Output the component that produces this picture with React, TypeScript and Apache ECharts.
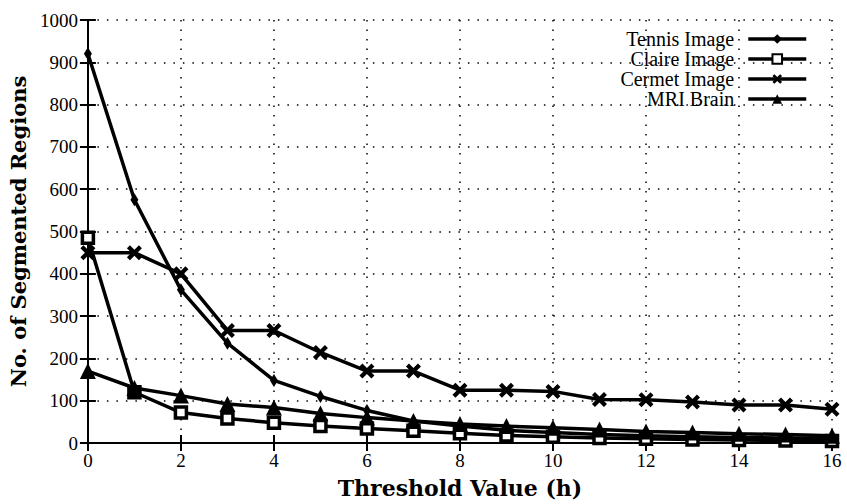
import React, { useEffect, useRef } from "react";
import * as echarts from "echarts";

const thresholds = [0, 1, 2, 3, 4, 5, 6, 7, 8, 9, 10, 11, 12, 13, 14, 15, 16];
const tennis = [920, 575, 362, 236, 148, 110, 77, 52, 40, 30, 25, 20, 17, 15, 13, 12, 11];
const claire = [485, 120, 72, 58, 48, 40, 34, 29, 23, 18, 15, 12, 10, 8, 7, 6, 5];
const cermet = [450, 450, 400, 266, 266, 214, 170, 170, 125, 125, 122, 103, 102, 97, 90, 90, 80];
const mri = [170, 130, 112, 92, 84, 70, 60, 52, 45, 40, 36, 32, 27, 25, 22, 20, 17];

const seriesNames = ["Tennis Image", "Claire Image", "Cermet Image", "MRI Brain"];

const xSymbol =
  "path://M0,2 L2,0 L5,3 L8,0 L10,2 L7,5 L10,8 L8,10 L5,7 L2,10 L0,8 L3,5 Z";

export default function App() {
  const ref = useRef<HTMLDivElement>(null);
  useEffect(() => {
    if (!ref.current) return;
    const chart = echarts.init(ref.current, undefined, { renderer: "svg" });
    const pair = (arr: number[]) => thresholds.map((t, i) => [t, arr[i]]);
    const lineStyle = { color: "#000", width: 3.5 };
    const serif = "Liberation Serif";
    const boldFont = "DejaVu Serif";
    chart.setOption({
      animation: false,
      backgroundColor: "#fff",
      grid: { left: 82, right: 15, top: 20, bottom: 57, containLabel: false },
      legend: {
        right: 34,
        top: 24,
        orient: "vertical",
        align: "right",
        itemWidth: 58,
        itemHeight: 12,
        itemGap: 0,
        lineStyle: { width: 3.5, color: "#000" },
        textStyle: { fontFamily: serif, fontSize: 20, color: "#000", lineHeight: 16, padding: [0, 9, 0, 0] },
        data: seriesNames,
      },
      xAxis: [
        {
          type: "value",
          min: 0,
          max: 16,
          interval: 2,
          name: "Threshold Value (h)",
          nameLocation: "middle",
          nameGap: 34,
          nameTextStyle: { fontFamily: boldFont, fontWeight: "bold", fontSize: 22, color: "#000" },
          axisLine: { show: true, lineStyle: { color: "#000", width: 2 } },
          axisTick: { show: true, inside: true, length: 8, lineStyle: { color: "#000", width: 2 } },
          axisLabel: { fontFamily: serif, fontSize: 19, color: "#000", margin: 8 },
          splitLine: { show: true, lineStyle: { color: "#000", width: 1.5, type: [1.5, 8] } },
        },
        {
          type: "value",
          position: "top",
          min: 0,
          max: 16,
          interval: 2,
          axisLine: { show: true, lineStyle: { color: "#000", width: 2 } },
          axisTick: { show: true, inside: true, length: 8, lineStyle: { color: "#000", width: 2 } },
          axisLabel: { show: false },
          splitLine: { show: false },
        },
      ],
      yAxis: [
        {
          type: "value",
          min: 0,
          max: 1000,
          interval: 100,
          name: "No. of Segmented Regions",
          nameLocation: "middle",
          nameGap: 58,
          nameTextStyle: { fontFamily: boldFont, fontWeight: "bold", fontSize: 21, color: "#000" },
          axisLine: { show: true, lineStyle: { color: "#000", width: 2 } },
          axisTick: { show: true, inside: true, length: 8, lineStyle: { color: "#000", width: 2 } },
          axisLabel: { fontFamily: serif, fontSize: 19, color: "#000", margin: 10, formatter: (v: number) => String(v) },
          splitLine: { show: true, lineStyle: { color: "#000", width: 1.5, type: [1.5, 8] } },
        },
        {
          type: "value",
          position: "right",
          min: 0,
          max: 1000,
          interval: 100,
          axisLine: { show: true, lineStyle: { color: "#000", width: 2 } },
          axisTick: { show: true, inside: true, length: 8, lineStyle: { color: "#000", width: 2 } },
          axisLabel: { show: false },
          splitLine: { show: false },
        },
      ],
      series: [
        {
          name: seriesNames[0],
          type: "line",
          data: pair(tennis),
          symbol: "diamond",
          symbolSize: [8, 13],
          lineStyle,
          itemStyle: { color: "#000" },
        },
        {
          name: seriesNames[1],
          type: "line",
          data: pair(claire),
          symbol: "rect",
          symbolSize: 11,
          lineStyle,
          itemStyle: { color: "#fff", borderColor: "#000", borderWidth: 3.5 },
        },
        {
          name: seriesNames[2],
          type: "line",
          data: pair(cermet),
          symbol: xSymbol,
          symbolSize: 15,
          lineStyle,
          itemStyle: { color: "#000" },
        },
        {
          name: seriesNames[3],
          type: "line",
          data: pair(mri),
          symbol: "triangle",
          symbolSize: 16,
          lineStyle,
          itemStyle: { color: "#000" },
        },
      ],
    });
    return () => chart.dispose();
  }, []);
  return <div ref={ref} style={{ width: 847, height: 504, position: "absolute", left: 0, top: 0 }} />;
}
